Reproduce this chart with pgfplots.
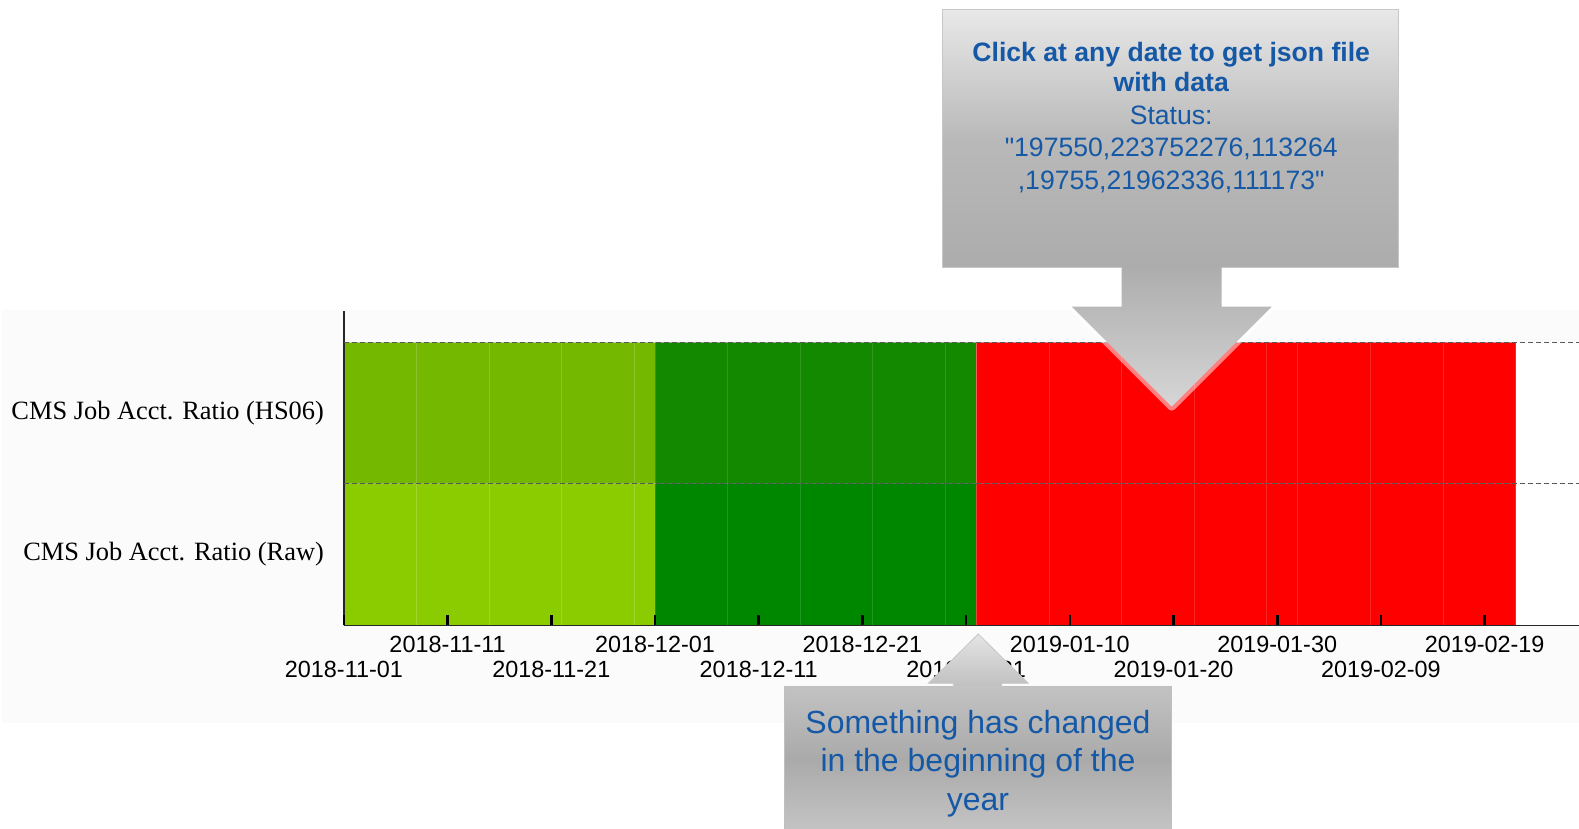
\documentclass[border=0pt]{standalone}
\usepackage{fontspec}
\setmainfont{Liberation Serif}
\newfontfamily\arial{Liberation Sans}
\usepackage{pgfplots}
\pgfplotsset{compat=1.18}
\definecolor{novhs}{HTML}{74B800}
\definecolor{novraw}{HTML}{8BCC00}
\definecolor{dechs}{HTML}{138900}
\definecolor{decraw}{HTML}{008700}
\definecolor{stred}{HTML}{FF0000}
\definecolor{bgchart}{HTML}{FAFBFA}
\definecolor{calltext}{RGB}{20,88,166}
\definecolor{boxA}{HTML}{E8E8E8}
\definecolor{boxB}{HTML}{B9B9B9}
\definecolor{boxC}{HTML}{ACACAC}
\definecolor{arrA}{HTML}{ADADAD}
\definecolor{arrB}{HTML}{D6D6D6}
\definecolor{bbA}{HTML}{C2C2C2}
\definecolor{bbB}{HTML}{AAAAAA}
\definecolor{bbC}{HTML}{C4C4C4}
\definecolor{baA}{HTML}{E4E4E4}
\definecolor{baB}{HTML}{C0C0C0}
\begin{document}
\begin{tikzpicture}[x=1pt,y=1pt]
\path[use as bounding box, fill=white] (0,0) rectangle (789.5,414.5);
\fill[bgchart] (1,53) rectangle (789.5,259.5);
\begin{axis}[
  at={(171.95pt,101.8pt)}, anchor=origin,
  scale only axis, width=617.55pt, height=157.1pt,
  xmin=0, xmax=119.1, ymin=0, ymax=2.22,
  axis lines*=left,
  axis line style={black!85, line width=0.7pt},
  axis on top,
  ytick={0.5,1.5},
  yticklabels={CMS Job Acct. Ratio (Raw), CMS Job Acct. Ratio (HS06)},
  ytick style={draw=none},
  yticklabel style={font=\fontsize{13.2}{15}\selectfont, inner sep=0pt, xshift=-9.8pt},
  extra y ticks={1,2},
  extra y tick labels={},
  extra y tick style={grid=major},
  grid style={black!65, dash pattern=on 2.5pt off 1.5pt, line width=0.5pt},
  xtick={10,30,50,70,90,110},
  xticklabels={2018-11-11,2018-12-01,2018-12-21,2019-01-10,2019-01-30,2019-02-19},
  extra x ticks={0,20,40,60,80,100},
  extra x tick labels={2018-11-01,2018-11-21,2018-12-11,2018-12-31,2019-01-20,2019-02-09},
  extra x tick style={xticklabel style={yshift=-12.6pt}},
  tick align=inside,
  major tick length=5pt,
  xtick style={black, line width=1.3pt},
  xticklabel style={font=\arial\fontsize{11.7}{13}\selectfont, inner sep=0pt, anchor=north, yshift=-5.2pt},
]
\fill[white] (axis cs:0,0) rectangle (axis cs:119.1,2);
% HS06 row (drawn full height, raw row drawn over the lower half)
\addplot[ybar interval, fill=novhs, draw=white, draw opacity=0.18, line width=0.5pt]
  coordinates {(0,2) (7,2) (14,2) (21,2) (28,2) (30,2)};
\addplot[ybar interval, fill=dechs, draw=white, draw opacity=0.12, line width=0.5pt]
  coordinates {(30,2) (37,2) (44,2) (51,2) (58,2) (61,2)};
\addplot[ybar interval, fill=stred, draw=white, draw opacity=0.15, line width=0.5pt]
  coordinates {(61,2) (68,2) (75,2) (82,2) (89,2) (92,2) (99,2) (106,2) (113,2)};
% Raw row
\addplot[ybar interval, fill=novraw, draw=white, draw opacity=0.18, line width=0.5pt]
  coordinates {(0,1) (7,1) (14,1) (21,1) (28,1) (30,1)};
\addplot[ybar interval, fill=decraw, draw=white, draw opacity=0.12, line width=0.5pt]
  coordinates {(30,1) (37,1) (44,1) (51,1) (58,1) (61,1)};
\addplot[ybar interval, fill=stred, draw=white, draw opacity=0.15, line width=0.5pt]
  coordinates {(61,1) (68,1) (75,1) (82,1) (89,1) (92,1) (99,1) (106,1) (113,1)};
\end{axis}
% top callout
\shade[top color=boxA, bottom color=boxC, middle color=boxB, draw=black!22, line width=0.5pt]
  (471.35,280.65) rectangle (699.15,409.5);
\draw[white, opacity=0.5, line width=4pt, line join=round] (535.85,261.15) -- (585.85,211.15) -- (635.85,261.15);
\shade[top color=arrA, bottom color=arrB]
  (560.85,280.9) -- (560.85,261.15) -- (535.85,261.15) -- (585.85,211.15) -- (635.85,261.15) -- (610.85,261.15) -- (610.85,280.9) -- cycle;
\begin{scope}[every node/.style={inner sep=0pt, text height=9.5pt, text depth=0pt, text=calltext, anchor=center}]
\node[font=\arial\bfseries\fontsize{13.3}{16}\selectfont] at (585.6,388.6) {Click at any date to get json file};
\node[font=\arial\bfseries\fontsize{13.3}{16}\selectfont] at (585.6,373.3) {with data};
\node[font=\arial\fontsize{13.3}{16}\selectfont] at (585.6,357.0) {Status:};
\node[font=\arial\fontsize{13.3}{16}\selectfont] at (585.6,341.1) {"197550,223752276,113264};
\node[font=\arial\fontsize{13.3}{16}\selectfont] at (585.6,324.5) {,19755,21962336,111173"};
\end{scope}
% bottom callout
\shade[top color=bbA, bottom color=bbC, middle color=bbB, draw=black!25, line width=0.5pt]
  (392,-1) rectangle (585.85,71.15);
\shade[top color=baA, bottom color=baB, draw=black!22, line width=0.4pt]
  (476.65,71.15) -- (476.65,72.85) -- (464.15,72.85) -- (489.15,97.5) -- (514.15,72.85) -- (500.85,72.85) -- (500.85,71.15) -- cycle;
\begin{scope}[every node/.style={inner sep=0pt, text height=11.5pt, text depth=0pt, text=calltext, anchor=center}]
\node[font=\arial\fontsize{16}{19}\selectfont] at (489,53.65) {Something has changed};
\node[font=\arial\fontsize{16}{19}\selectfont] at (489,34.25) {in the beginning of the};
\node[font=\arial\fontsize{16}{19}\selectfont] at (489,14.85) {year};
\end{scope}
\end{tikzpicture}
\end{document}
